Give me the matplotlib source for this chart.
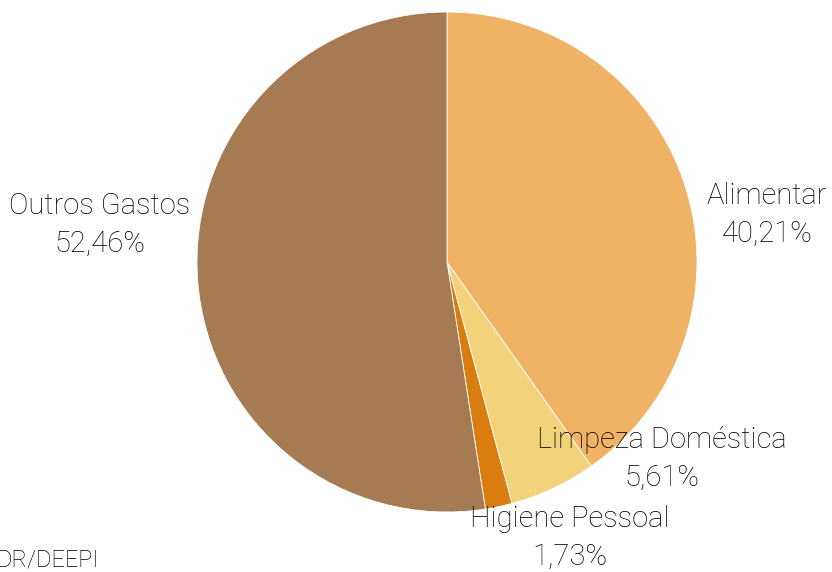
import matplotlib
matplotlib.use("Agg")
import matplotlib.pyplot as plt

categories = ["Alimentar", "Limpeza Doméstica", "Higiene Pessoal", "Outros Gastos"]
values = [40.21, 5.61, 1.73, 52.46]
value_labels = ["40,21%", "5,61%", "1,73%", "52,46%"]
colors = ["#F0B264", "#F2D27A", "#DA7D10", "#A67A52"]

# label positions in pixels (x, y from top)
label_pos = [(767, 215), (662, 459), (570, 538), (100, 225)]

plt.rcParams['font.family'] = ['Roboto', 'DejaVu Sans']

fig = plt.figure(figsize=(8.32, 5.72), dpi=100)
ax = fig.add_axes([0, 0, 1, 1])
H = 572

ax.pie(values, colors=colors, startangle=90, counterclock=False,
       center=(447, H - 262), radius=250,
       wedgeprops=dict(edgecolor="white", linewidth=0.6))

for cat, lab, (x, y) in zip(categories, value_labels, label_pos):
    ax.text(x, H - y, cat + "\n" + lab, ha="center", va="center",
            fontsize=21, fontweight="light", color="#000000", linespacing=1.45)

ax.text(-3, H - 560, "DR/DEEPI", ha="left", va="center",
        fontsize=17, fontweight="light", color="#000000")

ax.set_xlim(0, 832)
ax.set_ylim(0, H)
ax.axis("off")
fig.savefig("out.png", dpi=100)
